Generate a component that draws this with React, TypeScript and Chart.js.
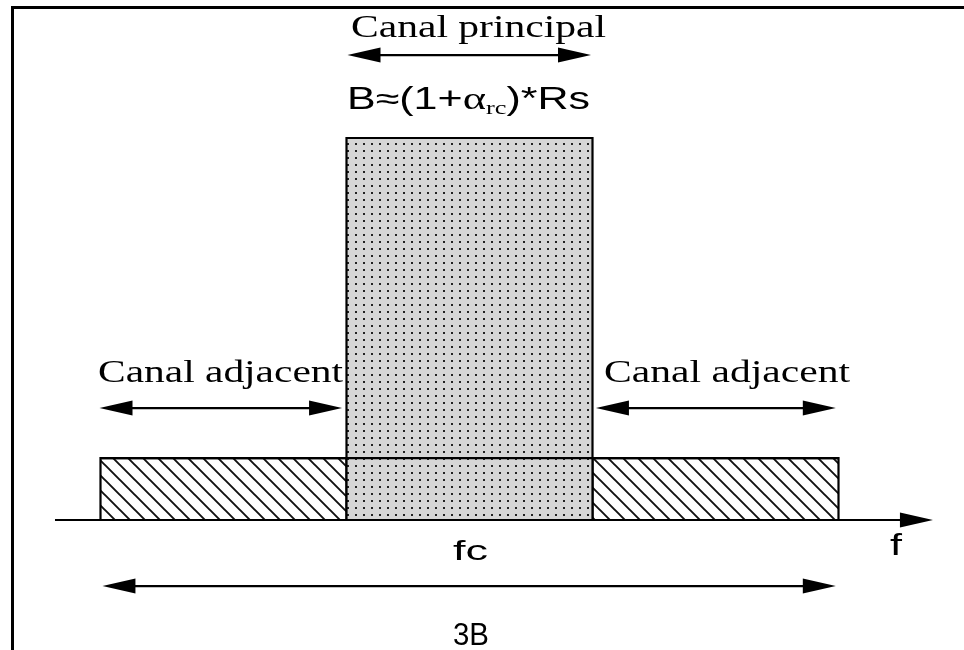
import React, { useEffect, useRef } from "react";
import { Chart, registerables } from "chart.js";

Chart.register(...registerables);

// ---- Diagram data (frequency in units of B, amplitude relative to main channel) ----
const channelNames = ["Canal adjacent", "Canal principal", "Canal adjacent"];
const channelStart = [-1.5, -0.5, 0.5];
const channelEnd = [-0.5, 0.5, 1.5];
const channelLevel = [0.162, 1, 0.162];

// double arrows: main channel, left adjacent, right adjacent, total 3B
const arrowLevel = [1.217, 0.293, 0.293, -0.173];
const arrowFrom = [-0.496, -1.504, 0.514, -1.492];
const arrowTo = [0.494, -0.518, 1.489, 1.489];

// frequency axis
const axisFrom = -1.685;
const axisTo = 1.884;

// labels
const formulaParts = ["B≈(1+", "α", "rc", ")*Rs"];
const centerLabel = "fc";
const axisLabel = "f";
const spanLabel = "3B";

function makeHatch(): CanvasPattern | string {
  const c = document.createElement("canvas");
  c.width = 15;
  c.height = 15;
  const g = c.getContext("2d");
  if (!g) return "#fff";
  g.fillStyle = "#fff";
  g.fillRect(0, 0, 15, 15);
  g.strokeStyle = "#111";
  g.lineWidth = 1.9;
  g.beginPath();
  g.moveTo(-2, -2);
  g.lineTo(17, 17);
  g.moveTo(-2, 13);
  g.lineTo(2, 17);
  g.moveTo(13, -2);
  g.lineTo(17, 2);
  g.stroke();
  const p = g.createPattern(c, "repeat");
  return p || "#fff";
}

function makeDots(): CanvasPattern | string {
  const c = document.createElement("canvas");
  c.width = 8;
  c.height = 7;
  const g = c.getContext("2d");
  if (!g) return "#d4d4d4";
  g.fillStyle = "#d6d6d6";
  g.fillRect(0, 0, 8, 7);
  g.fillStyle = "#222";
  g.fillRect(3, 3, 2, 2);
  const p = g.createPattern(c, "repeat");
  return p || "#d4d4d4";
}

type Part = { text: string; font: string; dy?: number };

function drawParts(ctx: CanvasRenderingContext2D, parts: Part[], left: number, baseline: number, width: number) {
  const widths = parts.map((p) => {
    ctx.font = p.font;
    return ctx.measureText(p.text).width;
  });
  const total = widths.reduce((a, b) => a + b, 0);
  const sx = width / total;
  ctx.save();
  ctx.translate(left, baseline);
  ctx.scale(sx, 1);
  ctx.fillStyle = "#000";
  ctx.textAlign = "left";
  ctx.textBaseline = "alphabetic";
  let x = 0;
  parts.forEach((p, i) => {
    ctx.font = p.font;
    ctx.fillText(p.text, x, p.dy || 0);
    x += widths[i];
  });
  ctx.restore();
}

function arrowHead(ctx: CanvasRenderingContext2D, tipX: number, y: number, dir: number) {
  const len = 33;
  const half = 7.5;
  ctx.beginPath();
  ctx.moveTo(tipX, y);
  ctx.lineTo(tipX - dir * len, y - half);
  ctx.lineTo(tipX - dir * len, y + half);
  ctx.closePath();
  ctx.fill();
}

const annotationPlugin = {
  id: "annotations",
  afterDatasetsDraw(chart: any) {
    const ctx: CanvasRenderingContext2D = chart.ctx;
    const xs = chart.scales.x;
    const ys = chart.scales.y;
    ctx.save();
    ctx.fillStyle = "#000";
    ctx.strokeStyle = "#000";
    ctx.lineWidth = 2.2;

    // frequency axis with arrow
    const ay = ys.getPixelForValue(0);
    const ax0 = xs.getPixelForValue(axisFrom);
    const ax1 = xs.getPixelForValue(axisTo);
    ctx.beginPath();
    ctx.moveTo(ax0, ay);
    ctx.lineTo(ax1 - 20, ay);
    ctx.stroke();
    arrowHead(ctx, ax1, ay, 1);

    // double arrows
    arrowLevel.forEach((lv, i) => {
      const y = ys.getPixelForValue(lv);
      const x0 = xs.getPixelForValue(arrowFrom[i]);
      const x1 = xs.getPixelForValue(arrowTo[i]);
      ctx.beginPath();
      ctx.moveTo(x0 + 20, y);
      ctx.lineTo(x1 - 20, y);
      ctx.stroke();
      arrowHead(ctx, x0, y, -1);
      arrowHead(ctx, x1, y, 1);
    });

    // frame
    ctx.fillRect(11, 6, chart.width - 11, 3);
    ctx.fillRect(11, 6, 3, chart.height - 6);
    ctx.restore();

    const serif = '"Liberation Serif", "DejaVu Serif", serif';
    const sans = '"Liberation Sans", Arial, sans-serif';

    drawParts(ctx, [{ text: channelNames[1], font: `31px ${serif}` }], 351, 37, 255);
    drawParts(
      ctx,
      [
        { text: formulaParts[0], font: `31px ${sans}` },
        { text: formulaParts[1], font: `32px ${serif}` },
        { text: formulaParts[2], font: `19px ${serif}`, dy: 5 },
        { text: formulaParts[3], font: `31px ${sans}` },
      ],
      347,
      109,
      243
    );
    drawParts(ctx, [{ text: channelNames[0], font: `31px ${serif}` }], 98, 382, 245);
    drawParts(ctx, [{ text: channelNames[2], font: `31px ${serif}` }], 604, 382, 246);
    drawParts(ctx, [{ text: centerLabel, font: `28px ${sans}` }], 453, 560, 35);
    drawParts(ctx, [{ text: axisLabel, font: `29px ${sans}` }], 890, 555, 12);
    drawParts(ctx, [{ text: spanLabel, font: `32px ${sans}` }], 453, 645, 36);
  },
};

export default function App() {
  const ref = useRef<HTMLCanvasElement | null>(null);

  useEffect(() => {
    document.body.style.margin = "0";
    if (!ref.current) return;
    const hatch = makeHatch();
    const dots = makeDots();

    const channelSets = channelNames.map((name, i) => ({
      label: name,
      data: [
        { x: channelStart[i], y: 0 },
        { x: channelStart[i], y: channelLevel[i] },
        { x: channelEnd[i], y: channelLevel[i] },
        { x: channelEnd[i], y: 0 },
      ],
      showLine: true,
      fill: "origin",
      backgroundColor: i === 1 ? dots : hatch,
      borderColor: "#000",
      borderWidth: 2.2,
      pointRadius: 0,
      tension: 0,
      order: i === 1 ? 2 : 3,
    }));

    const bandLine = {
      label: "band",
      data: [
        { x: channelStart[0], y: channelLevel[0] },
        { x: channelEnd[2], y: channelLevel[2] },
      ],
      showLine: true,
      fill: false,
      borderColor: "#000",
      borderWidth: 2.2,
      pointRadius: 0,
      order: 1,
    };

    const chart = new Chart(ref.current, {
      type: "scatter",
      data: { datasets: [bandLine as any, ...(channelSets as any)] },
      options: {
        animation: false,
        responsive: true,
        maintainAspectRatio: false,
        layout: { padding: 0 },
        plugins: { legend: { display: false }, tooltip: { enabled: false } },
        scales: {
          x: { type: "linear", min: -469.5 / 246, max: (964 - 469.5) / 246, display: false },
          y: { type: "linear", min: -(650 - 520) / 382, max: 520 / 382, display: false },
        },
      },
      plugins: [annotationPlugin],
    });
    return () => chart.destroy();
  }, []);

  return (
    <div style={{ position: "fixed", left: 0, top: 0, width: 964, height: 650, background: "#fff" }}>
      <canvas ref={ref} />
    </div>
  );
}
